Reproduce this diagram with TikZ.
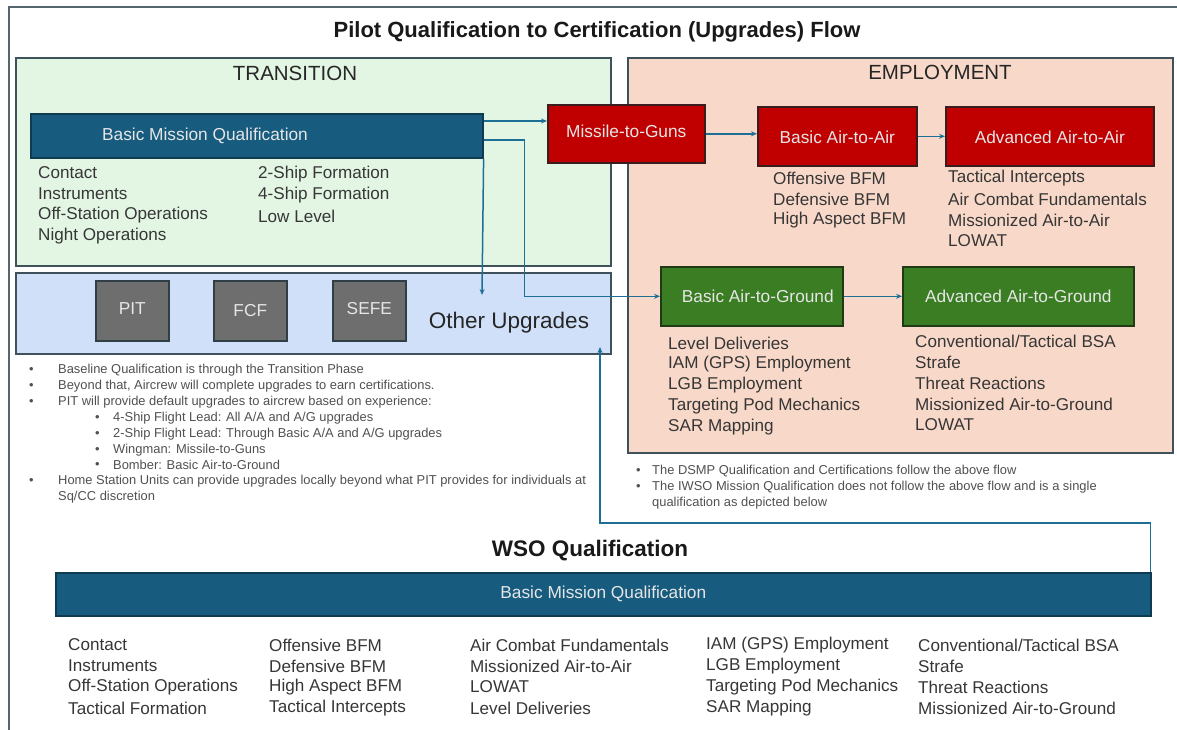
\documentclass[tikz,border=0pt]{standalone}
\usepackage{fontspec}
\setmainfont{Liberation Sans}
\usetikzlibrary{arrows.meta,calc}

\definecolor{framec}{HTML}{56666F}
\definecolor{regionedge}{HTML}{3F525C}
\definecolor{transfill}{HTML}{E3F6E4}
\definecolor{upgfill}{HTML}{CFE0F8}
\definecolor{empfill}{HTML}{F8D9C9}
\definecolor{bmqblue}{HTML}{175B7E}
\definecolor{bmqedge}{HTML}{0E3A52}
\definecolor{redc}{HTML}{C00000}
\definecolor{rededge}{HTML}{3A1E1E}
\definecolor{greenc}{HTML}{3A7D23}
\definecolor{greenedge}{HTML}{1F3A14}
\definecolor{grayc}{HTML}{6E6E6E}
\definecolor{grayedge}{HTML}{2F3F45}
\definecolor{arrowc}{HTML}{1E6F96}
\definecolor{boxtext}{HTML}{E6E6E6}
\definecolor{itemtext}{HTML}{363636}
\definecolor{notetext}{HTML}{505050}

\newcommand\fsz[1]{\fontsize{#1}{#1}\selectfont}

\begin{document}
\begin{tikzpicture}[x=1pt,y=-1pt,
  region/.style={draw=regionedge, line width=2pt, anchor=north west, inner sep=0pt},
  qbar/.style={fill=bmqblue, draw=bmqedge, line width=1.6pt, anchor=north west, inner sep=0pt},
  redbox/.style={fill=redc, draw=rededge, line width=1.6pt, anchor=north west, inner sep=0pt},
  greenbox/.style={fill=greenc, draw=greenedge, line width=1.6pt, anchor=north west, inner sep=0pt},
  graybox/.style={fill=grayc, draw=grayedge, line width=1.6pt, anchor=north west, inner sep=0pt,
    minimum width=73pt, minimum height=60pt},
  boxlabel/.style={text=boxtext, font=\fsz{17.3}, inner sep=0pt},
  heading/.style={text=black!85, font=\fsz{20.5}, inner sep=0pt},
  item/.style={text=itemtext, font=\fsz{17.1}, anchor=west, inner sep=0pt},
  note/.style={text=notetext, font=\fsz{12.9}, anchor=west, inner sep=0pt},
  conn/.style={draw=arrowc, line width=1.5pt, -{Stealth[length=6pt,width=5pt]}},
]
\useasboundingbox (0,0) rectangle (1177,730);

% outer frame (open on the right and bottom)
\draw[framec, line width=2.5pt] (1177,7) -- (9,7) -- (9,730);

% title
\node[font=\bfseries\fsz{22}, text=black!90, inner sep=0pt] (title) at (597,32)
  {Pilot Qualification to Certification (Upgrades) Flow};

% phase regions
\node[region, fill=transfill, minimum width=595pt, minimum height=208pt] (trans) at (15,57) {};
\node[region, fill=upgfill, minimum width=595pt, minimum height=81pt] (ou) at (15,272) {};
\node[region, fill=empfill, minimum width=545pt, minimum height=395pt] (emp) at (627,57) {};

\node[heading] (trans-h) at (295,73) {TRANSITION};
\node[heading] (emp-h) at (940,72) {EMPLOYMENT};

% basic mission qualification (transition)
\node[qbar, minimum width=452pt, minimum height=44pt] (bmq) at (30,113) {};
\node[boxlabel] (bmq-t) at (205,136) {Basic Mission Qualification};

\foreach \t [count=\i] in {Contact, Instruments, Off-Station Operations, Night Operations}
  \node[item] (tr-a\i) at (38,{173+21*(\i-1)}) {\t};
\foreach \t [count=\i] in {2-Ship Formation, 4-Ship Formation, Low Level}
  \node[item] (tr-b\i) at (258,{174+21*(\i-1)}) {\t};

% other upgrades
\node[graybox] (pit) at (95,280) {};
\node[graybox] (fcf) at (213,280) {};
\node[graybox] (sefe) at (332,280) {};
\node[boxlabel] (pit-t) at (pit.center) [yshift=2pt] {PIT};
\node[boxlabel] (fcf-t) at (fcf.center) [yshift=0pt] {FCF};
\node[boxlabel] (sefe-t) at (sefe.center) [yshift=2pt] {SEFE};
\node[text=black!85, font=\fsz{22.5}, inner sep=0pt] (ou-t) at (509,323) {Other Upgrades};

% air-to-air track
\node[redbox, minimum width=157pt, minimum height=58pt] (mtg) at (547,104) {};
\node[boxlabel] (mtg-t) at (mtg.center) [yshift=2pt] {Missile-to-Guns};
\node[redbox, minimum width=159pt, minimum height=59pt] (baa) at (757,106) {};
\node[boxlabel] (baa-t) at (baa.center) [yshift=-1pt] {Basic Air-to-Air};
\node[redbox, minimum width=208pt, minimum height=59pt] (aaa) at (945,106) {};
\node[boxlabel] (aaa-t) at (aaa.center) [yshift=-1pt] {Advanced Air-to-Air};

\foreach \t [count=\i] in {Offensive BFM, Defensive BFM, High Aspect BFM}
  \node[item] (baa-l\i) at (773,{178+21*(\i-1)}) {\t};
\foreach \t [count=\i] in {Tactical Intercepts, Air Combat Fundamentals, Missionized Air-to-Air, LOWAT}
  \node[item] (aaa-l\i) at (948,{178+21*(\i-1)}) {\t};

% air-to-ground track
\node[greenbox, minimum width=182pt, minimum height=59pt] (bag) at (660,266) {};
\node[boxlabel] (bag-t) at (bag.center) [xshift=6pt] {Basic Air-to-Ground};
\node[greenbox, minimum width=231pt, minimum height=59pt] (aag) at (902,266) {};
\node[boxlabel] (aag-t) at (aag.center) {Advanced Air-to-Ground};

\foreach \t [count=\i] in {Level Deliveries, {IAM (GPS) Employment}, LGB Employment, Targeting Pod Mechanics, SAR Mapping}
  \node[item] (bag-l\i) at (668,{343+21*(\i-1)}) {\t};
\foreach \t [count=\i] in {Conventional/Tactical BSA, Strafe, Threat Reactions, Missionized Air-to-Ground, LOWAT}
  \node[item] (aag-l\i) at (915,{341+21*(\i-1)}) {\t};

% notes under the pilot flow
\foreach \t/\yy [count=\i] in {
    {Baseline Qualification is through the Transition Phase}/370,
    {Beyond that, Aircrew will complete upgrades to earn certifications.}/386,
    {PIT will provide default upgrades to aircrew based on experience:}/402,
    {Home Station Units can provide upgrades locally beyond what PIT provides for individuals at}/481} {
  \node[note] (nb\i) at (29,\yy) {•};
  \node[note] (nl\i) at (58,\yy) {\t};
}
\node[note] (nl5) at (58,497) {Sq/CC discretion};
\foreach \t/\yy [count=\i] in {
    {4-Ship Flight Lead: All A/A and A/G upgrades}/418,
    {2-Ship Flight Lead: Through Basic A/A and A/G upgrades}/434,
    {Wingman: Missile-to-Guns}/450,
    {Bomber: Basic Air-to-Ground}/465} {
  \node[note] (sb\i) at (95,\yy) {•};
  \node[note] (sl\i) at (113,\yy) {\t};
}
\foreach \t/\yy [count=\i] in {
    {The DSMP Qualification and Certifications follow the above flow}/471,
    {The IWSO Mission Qualification does not follow the above flow and is a single}/487} {
  \node[note] (rb\i) at (636,\yy) {•};
  \node[note] (rl\i) at (652,\yy) {\t};
}
\node[note] (rl3) at (652,503) {qualification as depicted below};

% WSO qualification
\node[font=\bfseries\fsz{22.5}, text=black!90, inner sep=0pt] (wso-h) at (590,551) {WSO Qualification};
\node[qbar, minimum width=1095pt, minimum height=43pt] (wbmq) at (55,572) {};
\node[boxlabel] (wbmq-t) at (wbmq.center) {Basic Mission Qualification};

\foreach \x/\col in {68/{Contact,Instruments,Off-Station Operations,Tactical Formation},
                     269/{Offensive BFM,Defensive BFM,High Aspect BFM,Tactical Intercepts},
                     470/{Air Combat Fundamentals,Missionized Air-to-Air,LOWAT,Level Deliveries},
                     706/{{IAM (GPS) Employment},LGB Employment,Targeting Pod Mechanics,SAR Mapping},
                     918/{Conventional/Tactical BSA,Strafe,Threat Reactions,Missionized Air-to-Ground}} {
  \foreach \t [count=\i] in \col
    \node[item] (w\x-\i) at (\x,{645+21*(\i-1)}) {\t};
}

% connectors
\coordinate (a1) at ([yshift=-8pt]bmq.north east);
\coordinate (a2) at ([yshift=-27pt]bmq.north east);
\coordinate (ouin) at (482,295);
\coordinate (ret) at (600,347);

\draw[conn] (a1) -- (a1 -| mtg.west);
\draw[conn] (mtg.east) -- (mtg.east -| baa.west);
\draw[conn] (baa.east) -- (baa.east -| aaa.west);
\draw[conn] (a2) -- ++(41,0) |- (bag.west);
\draw[conn] (bmq.south east) -- (ouin);
\draw[conn] (bag.east) -- (bag.east -| aag.west);
\draw[conn] ([xshift=-1pt]wbmq.north east) -- ++(0,-49) -| (ret);
\end{tikzpicture}
\end{document}
